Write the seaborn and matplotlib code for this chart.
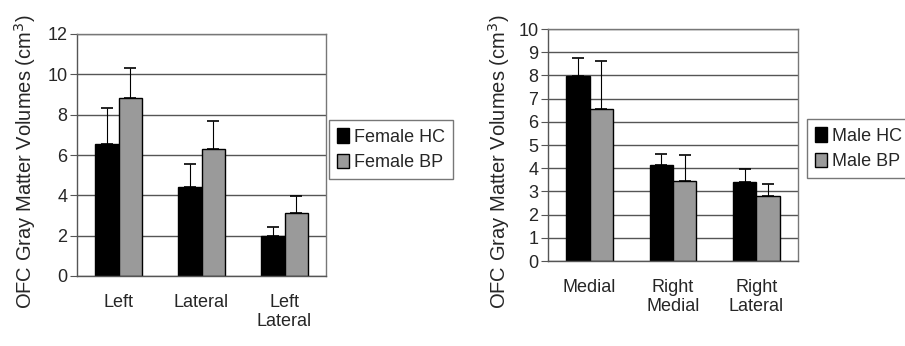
import numpy as np
import pandas as pd
import matplotlib
matplotlib.use("Agg")
import matplotlib.pyplot as plt
import seaborn as sns

# female panel
female_regions = ["Left", "Lateral", "Left\nLateral"]
female_hc = [6.53, 4.40, 1.97]
female_hc_err = [1.78, 1.15, 0.48]
female_bp = [8.81, 6.31, 3.12]
female_bp_err = [1.49, 1.36, 0.83]

# male panel
male_regions = ["Medial", "Right\nMedial", "Right\nLateral"]
male_hc = [7.97, 4.13, 3.39]
male_hc_err = [0.76, 0.47, 0.57]
male_bp = [6.57, 3.44, 2.81]
male_bp_err = [2.05, 1.11, 0.50]

sns.set_style("white")
plt.rcParams['font.family'] = ['Liberation Sans', 'DejaVu Sans']
plt.rcParams['font.size'] = 13


def draw_panel(ax, regions, hc, hc_err, bp, bp_err, names, ymax, ystep):
    df = pd.DataFrame({
        'region': regions * 2,
        'group': [names[0]] * 3 + [names[1]] * 3,
        'value': hc + bp,
    })
    sns.barplot(data=df, x='region', y='value', hue='group', ax=ax,
                palette=['#000000', '#9a9a9a'], width=0.56, gap=0,
                edgecolor='black', linewidth=1, errorbar=None, saturation=1)
    # upper-only error bars on the bar tops
    errs = hc_err + bp_err
    for patch, err in zip(ax.patches[:6], errs):
        xc = patch.get_x() + patch.get_width() / 2
        top = patch.get_height()
        ax.errorbar(xc, top, yerr=[[0], [err]], fmt='none', ecolor='black',
                    elinewidth=0.8, capsize=4.5, capthick=1.2, zorder=1)
    ax.set_ylim(0, ymax)
    ax.set_xlim(-0.5, 2.5)
    ax.set_yticks(np.arange(0, ymax + 0.1, ystep))
    ax.yaxis.grid(True, color='#555555', linewidth=1)
    ax.set_axisbelow(True)
    ax.set_xticks([0, 1, 2])
    ax.set_xticklabels(regions, linespacing=1.15)
    ax.set_xticks([-0.5, 0.5, 1.5, 2.5], minor=True)
    ax.tick_params(axis='x', which='major', length=0, pad=13, labelsize=13)
    ax.tick_params(axis='x', which='minor', length=4, direction='out',
                   color='#555555')
    ax.tick_params(axis='y', length=5, direction='out', color='#555555',
                   labelsize=13, pad=2, left=True)
    ax.set_xlabel('')
    ax.set_ylabel('OFC Gray Matter Volumes (cm$^3$)', fontsize=14.5)
    for side in ['top', 'right']:
        ax.spines[side].set_color('#777777')
    for side in ['left', 'bottom']:
        ax.spines[side].set_color('#555555')
    for sp in ax.spines.values():
        sp.set_linewidth(1)
    ax.get_legend().remove()


fig = plt.figure(figsize=(9.05, 3.46), dpi=100)
ax1 = fig.add_axes([77 / 905, 70 / 346, 249 / 905, 242 / 346])
ax2 = fig.add_axes([548 / 905, 85 / 346, 250 / 905, 232 / 346])

draw_panel(ax1, female_regions, female_hc, female_hc_err, female_bp,
           female_bp_err, ['Female HC', 'Female BP'], 12, 2)
draw_panel(ax2, male_regions, male_hc, male_hc_err, male_bp,
           male_bp_err, ['Male HC', 'Male BP'], 10, 1)

# y labels sit a little below the axes centre in the original
ax1.yaxis.set_label_coords(-0.157, 0.471)
ax2.yaxis.set_label_coords(-0.144, 0.427)

for ax, anchor in [(ax1, (329 / 905, 1 - 120 / 346)),
                   (ax2, (807 / 905, 1 - 119 / 346))]:
    h = ax.patches[0], ax.patches[3]
    labels = [t for t in ax.get_legend_handles_labels()[1]][:2]
    fig.legend(h, labels, loc='upper left', bbox_to_anchor=anchor,
               frameon=True, fancybox=False, edgecolor='#555555',
               fontsize=13, handlelength=0.65, handleheight=0.85,
               handletextpad=0.3, borderpad=0.45, labelspacing=0.45,
               borderaxespad=0)

fig.savefig('out.png', dpi=100, facecolor='white')
